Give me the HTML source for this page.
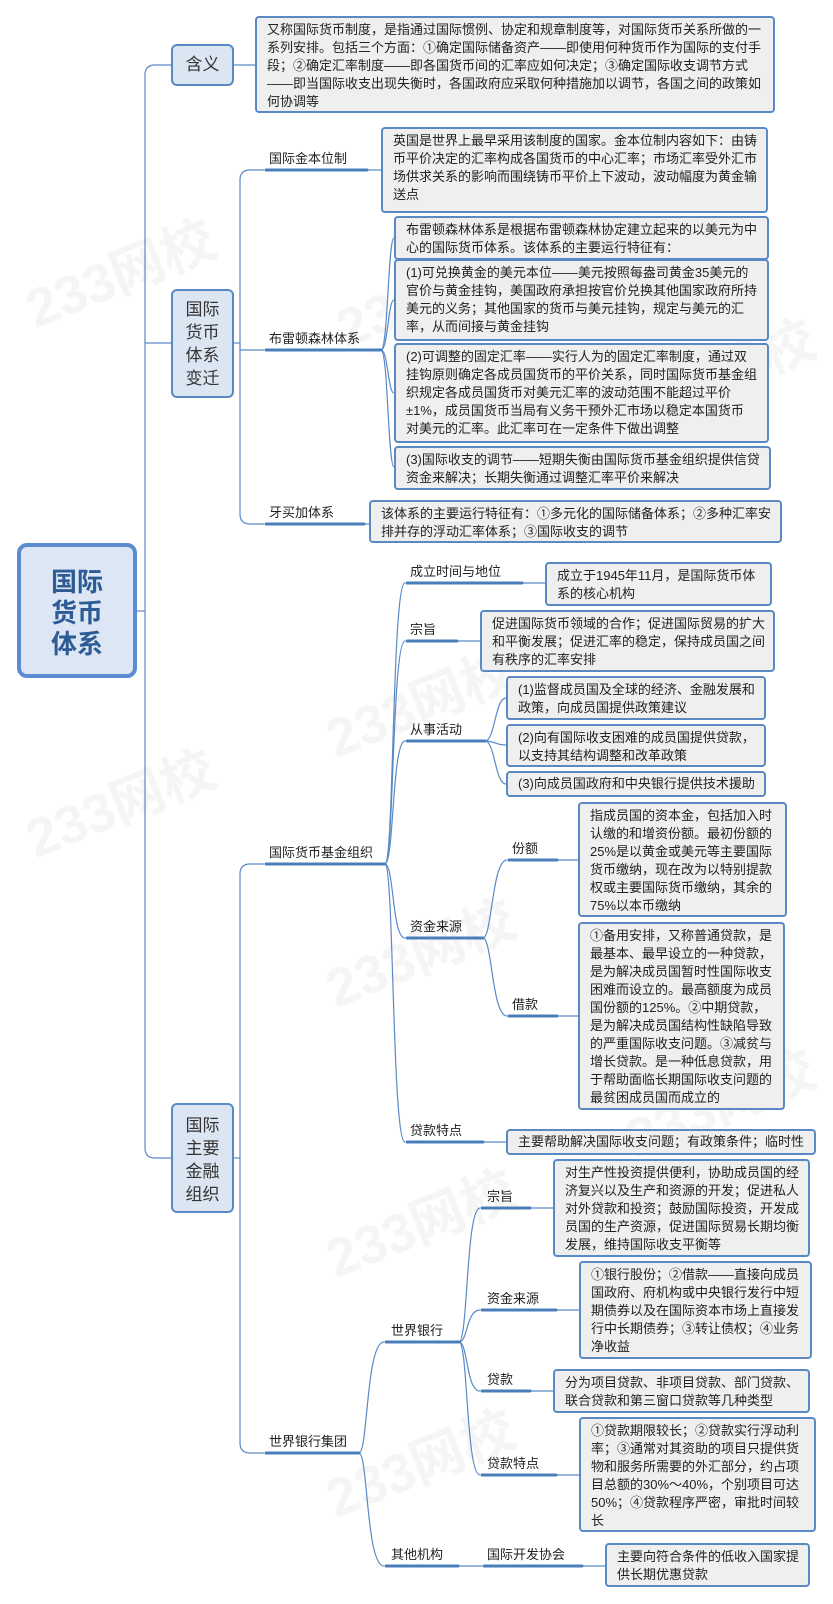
<!DOCTYPE html>
<html><head><meta charset="utf-8">
<style>
html,body{margin:0;padding:0;background:#fff;}
body{width:833px;height:1604px;position:relative;overflow:hidden;font-family:"Liberation Sans","Noto Sans CJK SC",sans-serif;color:#222;}
.wm{position:absolute;font-weight:bold;font-size:54px;color:#f5f5f5;transform:rotate(-22deg);white-space:nowrap;font-family:"Liberation Sans","Noto Sans CJK SC",sans-serif;}
.b{position:absolute;background:#efefef;border:2px solid #5a8ac6;border-radius:4px;box-sizing:border-box;font-size:13px;line-height:18px;padding:3px 0 0 10px;white-space:nowrap;color:#222;}
.l1{position:absolute;background:#dce6f2;border:2px solid #5a8ac6;border-radius:6px;box-sizing:border-box;font-size:17px;line-height:23px;text-align:center;color:#333;}
.lb{position:absolute;font-size:13px;line-height:16px;white-space:nowrap;color:#222;}
svg{position:absolute;left:0;top:0;}
</style></head><body>
<div class="wm" style="left:20px;top:230px">233网校</div>
<div class="wm" style="left:330px;top:250px">233网校</div>
<div class="wm" style="left:20px;top:760px">233网校</div>
<div class="wm" style="left:320px;top:660px">233网校</div>
<div class="wm" style="left:320px;top:910px">233网校</div>
<div class="wm" style="left:320px;top:1180px">233网校</div>
<div class="wm" style="left:320px;top:1420px">233网校</div>
<div class="wm" style="left:620px;top:330px">233网校</div>
<div class="wm" style="left:620px;top:1060px">233网校</div>

<svg width="833" height="1604" viewBox="0 0 833 1604" fill="none">
<g stroke="#5a8ac6" stroke-width="1.2">
<path d="M137 611 H145"/>
<path d="M145 611 V75 Q145 65 155 65 H172"/>
<path d="M145 343 H172"/>
<path d="M145 611 V1148 Q145 1158 155 1158 H172"/>
<path d="M234 65 H255"/>
<path d="M234 343 H240"/>
<path d="M240 343 V180 Q240 170 250 170 H264"/>
<path d="M240 343 V350 H264"/>
<path d="M240 343 V514 Q240 524 250 524 H264"/>
<path d="M367 170 H381"/>
<path d="M381 350 C388 350,388 238,394 238"/>
<path d="M381 350 C388 350,388 300,394 300"/>
<path d="M381 350 C388 350,388 393,394 393"/>
<path d="M381 350 C388 350,388 467,394 467"/>
<path d="M364 524 H369"/>
<path d="M234 1158 H240"/>
<path d="M240 1158 V874 Q240 864 250 864 H264"/>
<path d="M240 1158 V1443 Q240 1453 250 1453 H264"/>
<path d="M385 864 C394 864,392 583,405 583"/>
<path d="M385 864 C394 864,392 641,405 641"/>
<path d="M385 864 C394 864,392 741,405 741"/>
<path d="M385 864 C394 864,392 938,405 938"/>
<path d="M385 864 C394 864,392 1142,405 1142"/>
<path d="M522 583 H545"/>
<path d="M457 641 H480"/>
<path d="M485 741 C495 741,495 698,506 698"/>
<path d="M485 741 C495 741,495 745,506 745"/>
<path d="M485 741 C495 741,495 784,506 784"/>
<path d="M483 938 C492 938,492 860,507 860"/>
<path d="M483 938 C492 938,492 1016,507 1016"/>
<path d="M557 860 H578"/>
<path d="M557 1016 H578"/>
<path d="M483 1142 H506"/>
<path d="M359 1453 C368 1453,366 1342,384 1342"/>
<path d="M359 1453 C368 1453,366 1566,384 1566"/>
<path d="M459 1342 C468 1342,466 1208,480 1208"/>
<path d="M459 1342 C468 1342,466 1310,480 1310"/>
<path d="M459 1342 C468 1342,466 1391,480 1391"/>
<path d="M459 1342 C468 1342,466 1475,480 1475"/>
<path d="M530 1208 H553"/>
<path d="M556 1310 H579"/>
<path d="M530 1391 H553"/>
<path d="M556 1475 H579"/>
<path d="M458 1566 H482"/>
<path d="M582 1566 H605"/>
</g>
<g stroke="#4a7ebb" stroke-width="3" stroke-linecap="round">
<path d="M266 170 H367"/>
<path d="M266 350 H381"/>
<path d="M266 524 H364"/>
<path d="M266 864 H385"/>
<path d="M407 583 H522"/>
<path d="M407 641 H457"/>
<path d="M407 741 H485"/>
<path d="M407 938 H483"/>
<path d="M407 1142 H483"/>
<path d="M509 860 H557"/>
<path d="M509 1016 H557"/>
<path d="M266 1453 H359"/>
<path d="M386 1342 H459"/>
<path d="M386 1566 H458"/>
<path d="M482 1208 H530"/>
<path d="M482 1310 H556"/>
<path d="M482 1391 H530"/>
<path d="M482 1475 H556"/>
<path d="M484 1566 H582"/>
</g>
</svg>

<div style="position:absolute;left:17px;top:543px;width:120px;height:135px;box-sizing:border-box;border:4px solid #5b8bd0;border-radius:10px;background:#dce6f4;text-align:center;font-weight:bold;font-size:26px;line-height:31px;color:#2d5c94;padding-top:20px;">国际<br>货币<br>体系</div>

<div class="l1" style="left:171px;top:44px;width:63px;height:42px;line-height:38px;">含义</div>
<div class="l1" style="left:171px;top:289px;width:63px;height:109px;padding-top:7px;">国际<br>货币<br>体系<br>变迁</div>
<div class="l1" style="left:171px;top:1103px;width:63px;height:110px;padding-top:9px;">国际<br>主要<br>金融<br>组织</div>

<div class="b" style="left:255px;top:16px;width:520px;height:97px;">又称国际货币制度，是指通过国际惯例、协定和规章制度等，对国际货币关系所做的一<br>系列安排。包括三个方面：①确定国际储备资产——即使用何种货币作为国际的支付手<br>段；②确定汇率制度——即各国货币间的汇率应如何决定；③确定国际收支调节方式<br>——即当国际收支出现失衡时，各国政府应采取何种措施加以调节，各国之间的政策如<br>何协调等</div>

<div class="lb" style="left:269px;top:151px">国际金本位制</div>
<div class="b" style="left:381px;top:127px;width:387px;height:86px;">英国是世界上最早采用该制度的国家。金本位制内容如下：由铸<br>币平价决定的汇率构成各国货币的中心汇率；市场汇率受外汇市<br>场供求关系的影响而围绕铸币平价上下波动，波动幅度为黄金输<br>送点</div>

<div class="lb" style="left:269px;top:331px">布雷顿森林体系</div>
<div class="b" style="left:394px;top:216px;width:375px;height:44px;">布雷顿森林体系是根据布雷顿森林协定建立起来的以美元为中<br>心的国际货币体系。该体系的主要运行特征有：</div>
<div class="b" style="left:394px;top:259px;width:375px;height:82px;">(1)可兑换黄金的美元本位——美元按照每盎司黄金35美元的<br>官价与黄金挂钩，美国政府承担按官价兑换其他国家政府所持<br>美元的义务；其他国家的货币与美元挂钩，规定与美元的汇<br>率，从而间接与黄金挂钩</div>
<div class="b" style="left:394px;top:343px;width:375px;height:100px;">(2)可调整的固定汇率——实行人为的固定汇率制度，通过双<br>挂钩原则确定各成员国货币的平价关系，同时国际货币基金组<br>织规定各成员国货币对美元汇率的波动范围不能超过平价<br>±1%，成员国货币当局有义务干预外汇市场以稳定本国货币<br>对美元的汇率。此汇率可在一定条件下做出调整</div>
<div class="b" style="left:394px;top:446px;width:377px;height:44px;">(3)国际收支的调节——短期失衡由国际货币基金组织提供信贷<br>资金来解决；长期失衡通过调整汇率平价来解决</div>

<div class="lb" style="left:269px;top:505px">牙买加体系</div>
<div class="b" style="left:369px;top:500px;width:413px;height:43px;">该体系的主要运行特征有：①多元化的国际储备体系；②多种汇率安<br>排并存的浮动汇率体系；③国际收支的调节</div>

<div class="lb" style="left:269px;top:845px">国际货币基金组织</div>
<div class="lb" style="left:410px;top:564px">成立时间与地位</div>
<div class="b" style="left:545px;top:562px;width:227px;height:44px;">成立于1945年11月，是国际货币体<br>系的核心机构</div>
<div class="lb" style="left:410px;top:622px">宗旨</div>
<div class="b" style="left:480px;top:610px;width:295px;height:62px;">促进国际货币领域的合作；促进国际贸易的扩大<br>和平衡发展；促进汇率的稳定，保持成员国之间<br>有秩序的汇率安排</div>
<div class="lb" style="left:410px;top:722px">从事活动</div>
<div class="b" style="left:506px;top:676px;width:260px;height:44px;">(1)监督成员国及全球的经济、金融发展和<br>政策，向成员国提供政策建议</div>
<div class="b" style="left:506px;top:724px;width:260px;height:43px;">(2)向有国际收支困难的成员国提供贷款，<br>以支持其结构调整和改革政策</div>
<div class="b" style="left:506px;top:771px;width:260px;height:26px;padding-top:2px;">(3)向成员国政府和中央银行提供技术援助</div>
<div class="lb" style="left:410px;top:919px">资金来源</div>
<div class="lb" style="left:512px;top:841px">份额</div>
<div class="b" style="left:578px;top:802px;width:209px;height:115px;">指成员国的资本金，包括加入时<br>认缴的和增资份额。最初份额的<br>25%是以黄金或美元等主要国际<br>货币缴纳，现在改为以特别提款<br>权或主要国际货币缴纳，其余的<br>75%以本币缴纳</div>
<div class="lb" style="left:512px;top:997px">借款</div>
<div class="b" style="left:578px;top:922px;width:207px;height:188px;">①备用安排，又称普通贷款，是<br>最基本、最早设立的一种贷款，<br>是为解决成员国暂时性国际收支<br>困难而设立的。最高额度为成员<br>国份额的125%。②中期贷款，<br>是为解决成员国结构性缺陷导致<br>的严重国际收支问题。③减贫与<br>增长贷款。是一种低息贷款，用<br>于帮助面临长期国际收支问题的<br>最贫困成员国而成立的</div>
<div class="lb" style="left:410px;top:1123px">贷款特点</div>
<div class="b" style="left:506px;top:1129px;width:310px;height:26px;padding-top:2px;">主要帮助解决国际收支问题；有政策条件；临时性</div>

<div class="lb" style="left:269px;top:1434px">世界银行集团</div>
<div class="lb" style="left:391px;top:1323px">世界银行</div>
<div class="lb" style="left:391px;top:1547px">其他机构</div>
<div class="lb" style="left:487px;top:1189px">宗旨</div>
<div class="b" style="left:553px;top:1159px;width:257px;height:98px;">对生产性投资提供便利，协助成员国的经<br>济复兴以及生产和资源的开发；促进私人<br>对外贷款和投资；鼓励国际投资，开发成<br>员国的生产资源，促进国际贸易长期均衡<br>发展，维持国际收支平衡等</div>
<div class="lb" style="left:487px;top:1291px">资金来源</div>
<div class="b" style="left:579px;top:1261px;width:233px;height:98px;">①银行股份；②借款——直接向成员<br>国政府、府机构或中央银行发行中短<br>期债券以及在国际资本市场上直接发<br>行中长期债券；③转让债权；④业务<br>净收益</div>
<div class="lb" style="left:487px;top:1372px">贷款</div>
<div class="b" style="left:553px;top:1369px;width:257px;height:44px;">分为项目贷款、非项目贷款、部门贷款、<br>联合贷款和第三窗口贷款等几种类型</div>
<div class="lb" style="left:487px;top:1456px">贷款特点</div>
<div class="b" style="left:579px;top:1417px;width:237px;height:115px;">①贷款期限较长；②贷款实行浮动利<br>率；③通常对其资助的项目只提供货<br>物和服务所需要的外汇部分，约占项<br>目总额的30%～40%，个别项目可达<br>50%；④贷款程序严密，审批时间较<br>长</div>
<div class="lb" style="left:487px;top:1547px">国际开发协会</div>
<div class="b" style="left:605px;top:1543px;width:205px;height:44px;">主要向符合条件的低收入国家提<br>供长期优惠贷款</div>
</body></html>
